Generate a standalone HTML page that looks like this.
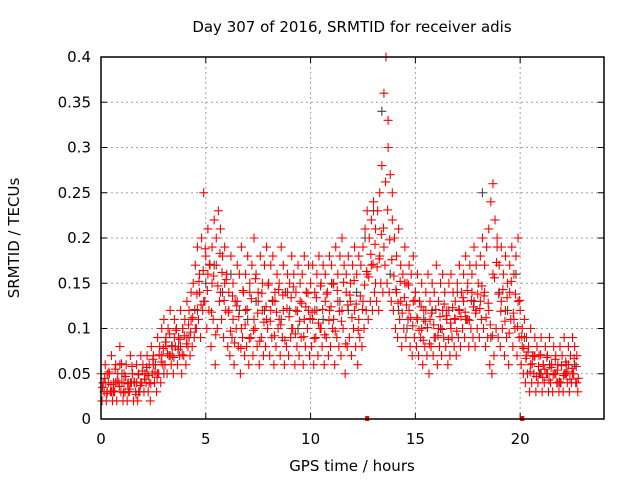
<!DOCTYPE html>
<html><head><meta charset="utf-8"><style>
body{margin:0;background:#fff}
svg{display:block;font-family:"DejaVu Sans","Liberation Sans",sans-serif}
</style></head><body>
<svg id="chart" width="640" height="480">
<text x="352" y="32" font-size="15" text-anchor="middle">Day 307 of 2016, SRMTID for receiver adis</text>
<text x="352" y="471" font-size="15" text-anchor="middle">GPS time / hours</text>
<text transform="translate(19,238) rotate(-90)" font-size="15" text-anchor="middle">SRMTID / TECUs</text>
<g id="grid"></g>
<g id="ticks"></g>
<g id="grey"></g>
<g id="red"></g>
<rect x="101" y="57" width="503" height="362" fill="none" stroke="#000" stroke-width="1.5"/>
</svg>
<script>
const xTicks=[0,5,10,15,20];
const yTicks=[0,0.05,0.1,0.15,0.2,0.25,0.3,0.35,0.4];
const yTickLabels=["0","0.05","0.1","0.15","0.2","0.25","0.3","0.35","0.4"];
const redA=[.05,.04,.06,.03,.05,.07,.04,.06,.05,.08,.04,.05,.06,.04,.07,.05,.04,.06,.05,.07,
.06,.05,.07,.06,.08,.07,.06,.09,.08,.10,
.11,.09,.10,.12,.08,.11,.10,.09,.12,.10,.11,.13,.12,.14,.15,
.17,.19,.16,.20,.25,.18,.21,.17,.19,.22,.20,.23,.21,.18,.19,
.16,.14,.18,.15,.13,.17,.16,.19,.14,.16,.18,.15,.17,.20,.16,.14,.18,.15,.17,.19,
.15,.17,.18,.14,.16,.15,.19,.17,.14,.16,.15,.18,.16,.14,.17,.15,.16,.18,.14,.17,
.15,.17,.14,.16,.18,.15,.17,.16,.14,.18,.17,.15,.19,.16,.18,.20,.17,.16,.18,.15,.17,.19,.16,.18,.17,
.19,.21,.23,.20,.22,.24,.21,.23,.25,.28,
.36,.40,.33,.27,.22,
.20,.18,.21,.17,.16,.19,.15,.17,.16,.18,
.14,.16,.13,.15,.12,.14,.16,.13,.15,.14,.17,.13,.15,.16,.14,.12,.15,.16,.14,.13,
.15,.17,.14,.16,.18,.15,.17,.16,.19,.17,.15,.18,.20,.17,.19,
.21,.24,.26,.22,.19,
.17,.19,.16,.18,.15,.17,.19,.16,.18,.20,
.12,.10,.11,.09,.08,.10,.07,.09,.08,.07,.09,.06,.08,.07,.09,.06,.08,.07,.06,.08,.07,.09,.06,.08,.07,.09,.08,.07];
const redB=[.02,.03,.02,.04,.03,.02,.03,.02,.04,.03,.02,.03,.02,.03,.04,.02,.03,.02,.03,.04,
.03,.04,.03,.02,.05,.04,.03,.05,.04,.06,
.06,.05,.07,.06,.05,.08,.06,.07,.05,.07,.06,.08,.07,.08,.09,
.10,.11,.09,.12,.13,.10,.12,.08,.11,.06,.10,.13,.11,.09,.12,
.08,.07,.09,.06,.10,.08,.05,.09,.07,.08,.06,.09,.07,.10,.08,.06,.09,.07,.08,.10,
.07,.09,.06,.08,.10,.07,.09,.06,.08,.07,.09,.10,.06,.08,.07,.09,.06,.08,.10,.07,
.08,.06,.09,.07,.10,.08,.06,.09,.07,.08,.10,.06,.09,.08,.07,.10,.05,.08,.09,.07,.10,.08,.06,.09,.08,
.10,.12,.11,.13,.12,.14,.13,.12,.15,.14,
.17,.15,.14,.13,.12,
.10,.09,.11,.08,.10,.09,.11,.08,.07,.09,
.08,.07,.09,.06,.08,.07,.05,.08,.07,.09,.06,.08,.07,.09,.08,.06,.07,.09,.08,.07,
.09,.08,.10,.09,.11,.08,.10,.09,.08,.10,.09,.11,.10,.08,.09,
.06,.05,.07,.10,.09,
.08,.10,.07,.09,.06,.11,.08,.10,.07,.09,
.06,.05,.04,.05,.03,.04,.05,.03,.04,.05,.03,.04,.05,.03,.04,.03,.05,.04,.03,.04,.03,.05,.04,.03,.04,.05,.04,.03];
const redC=[.04,.05,.03,.04,.06,.04,.03,.05,.04,.04,
.05,.04,.06,.05,.07,
.08,.07,.09,.08,.10,.09,.11,.10,
.14,.13,.16,.15,.17,.14,.15,
.12,.11,.13,.10,.12,.14,.11,.13,.12,.11,
.12,.13,.11,.12,.14,.10,.12,.13,.11,.12,
.11,.12,.10,.13,.12,.11,.13,.12,.14,.13,.12,.11,.13,
.16,.17,.15,.18,.19,
.30,.25,
.14,.13,.15,.12,.13,
.11,.10,.12,.11,.09,.10,.12,.11,.10,.11,
.12,.13,.11,.14,.12,.13,.14,.12,
.16,.20,
.13,.12,.14,.11,.13,
.08,.07,.06,.07,.05,.06,.05,.06,.05,.04,.05,.06,.05,.04];
const redD=[.035,.045,.028,.052,.038,.031,.055,.042,.036,.061,.029,.047,.039,.033,.058,.041,.027,.049,.037,.053,
.044,.057,.048,.039,.066,.052,.046,.071,.063,.078,
.085,.072,.094,.081,.068,.098,.077,.088,.071,.092,.083,.104,.096,.112,.121,
.138,.152,.126,.164,.188,.142,.171,.118,.158,.093,.147,.183,.162,.131,.154,
.118,.097,.136,.084,.125,.113,.078,.142,.104,.121,.089,.133,.098,.155,.117,.086,.139,.107,.124,.148,
.108,.131,.092,.118,.143,.104,.137,.087,.122,.113,.134,.146,.094,.119,.108,.128,.091,.124,.139,.111,
.118,.089,.134,.106,.147,.121,.093,.138,.109,.124,.149,.097,.142,.119,.108,.151,.083,.126,.137,.112,.153,.127,.098,.136,.121,
.148,.163,.157,.182,.171,.193,.168,.177,.204,.211,
.262,.231,.198,.176,.158,
.143,.128,.152,.117,.134,.126,.148,.112,.103,.131,
.112,.098,.124,.087,.108,.101,.083,.117,.104,.121,.092,.113,.099,.127,.114,.088,.106,.123,.111,.097,
.121,.113,.134,.118,.142,.109,.131,.124,.117,.138,.122,.147,.136,.112,.128,
.104,.092,.156,.173,.138,
.119,.143,.108,.134,.095,.152,.117,.138,.102,.131,
.091,.078,.067,.074,.052,.061,.069,.047,.058,.071,.046,.055,.068,.043,.057,.049,.066,.054,.041,.059,.048,.063,.052,.044,.056,.067,.058,.045];
const greyV=[.04,.03,.05,.04,.03,.05,.06,.05,.07,.08,
.09,.12,.15,.17,.14,.16,.12,.11,.13,.12,
.13,.11,.12,.10,.14,.12,.11,.15,.13,.12,
.14,.20,.23,.34,.16,.12,.10,.14,.11,.12,
.10,.12,.14,.11,.13,.25,.09,.14,.12,.16,
.09,.07,.05,.06,.04,.05,.06];
const zeroMarks=[12.7,20.1];

const X0=101,X1=604,Y0=419,Y1=57,XMAX=24,YMAX=0.4;
const sx=v=>X0+v/XMAX*(X1-X0);
const sy=v=>Y0-v/YMAX*(Y0-Y1);
const NS="http://www.w3.org/2000/svg";
function mk(tag,attrs,parent){const e=document.createElementNS(NS,tag);for(const k in attrs)e.setAttribute(k,attrs[k]);parent.appendChild(e);return e;}
const grid=document.getElementById('grid'),ticks=document.getElementById('ticks');
xTicks.forEach(t=>{
  const x=sx(t);
  if(t>0){const g=mk('line',{x1:x,x2:x,y1:Y0,y2:Y1,stroke:'#a0a0a0','stroke-dasharray':'2,3'},grid);
  
  }
  mk('line',{x1:x,x2:x,y1:Y0,y2:Y0-6,stroke:'#000'},ticks);
  mk('line',{x1:x,x2:x,y1:Y1,y2:Y1+6,stroke:'#000'},ticks);
  const l=mk('text',{x:x,y:Y0+25,'font-size':15,'text-anchor':'middle'},ticks);l.textContent=t;
  
  
});
yTicks.forEach((t,i)=>{
  const y=sy(t);
  if(t>0&&t<YMAX){const g=mk('line',{x1:X0,x2:X1,y1:y,y2:y,stroke:'#a0a0a0','stroke-dasharray':'2,3'},grid);
  
  }
  mk('line',{x1:X0,x2:X0+6,y1:y,y2:y,stroke:'#000'},ticks);
  mk('line',{x1:X1,x2:X1-6,y1:y,y2:y,stroke:'#000'},ticks);
  const l=mk('text',{x:X0-10,y:y+5,'font-size':15,'text-anchor':'end'},ticks);l.textContent=yTickLabels[i];
  
  
});
function plus(g,t,v,col,name){
  const x=sx(t),y=sy(v);
  const p=mk('path',{d:`M${x-4.5},${y}H${x+4.5}M${x},${y-4.5}V${y+4.5}`,stroke:col,'stroke-width':1.1,fill:'none'},g);
  
  
}
const gg=document.getElementById('grey'),rg=document.getElementById('red');
greyV.forEach((v,i)=>plus(gg,i*0.4+0.2,v,'#404040','grey-point'));
redA.forEach((v,i)=>plus(rg,i*0.1,v,'#ff0000','red-point'));
redB.forEach((v,i)=>plus(rg,i*0.1+0.05,v,'#ff0000','red-point'));
redC.forEach((v,i)=>plus(rg,i*0.2+0.1,v,'#ff0000','red-point'));
redD.forEach((v,i)=>plus(rg,i*0.1+0.075,v,'#ff0000','red-point'));
zeroMarks.forEach(t=>{
  const r=mk('rect',{x:sx(t)-2,y:Y0-3,width:4,height:5,fill:'#ff0000'},rg);
  
  
});
</script>
</body></html>
